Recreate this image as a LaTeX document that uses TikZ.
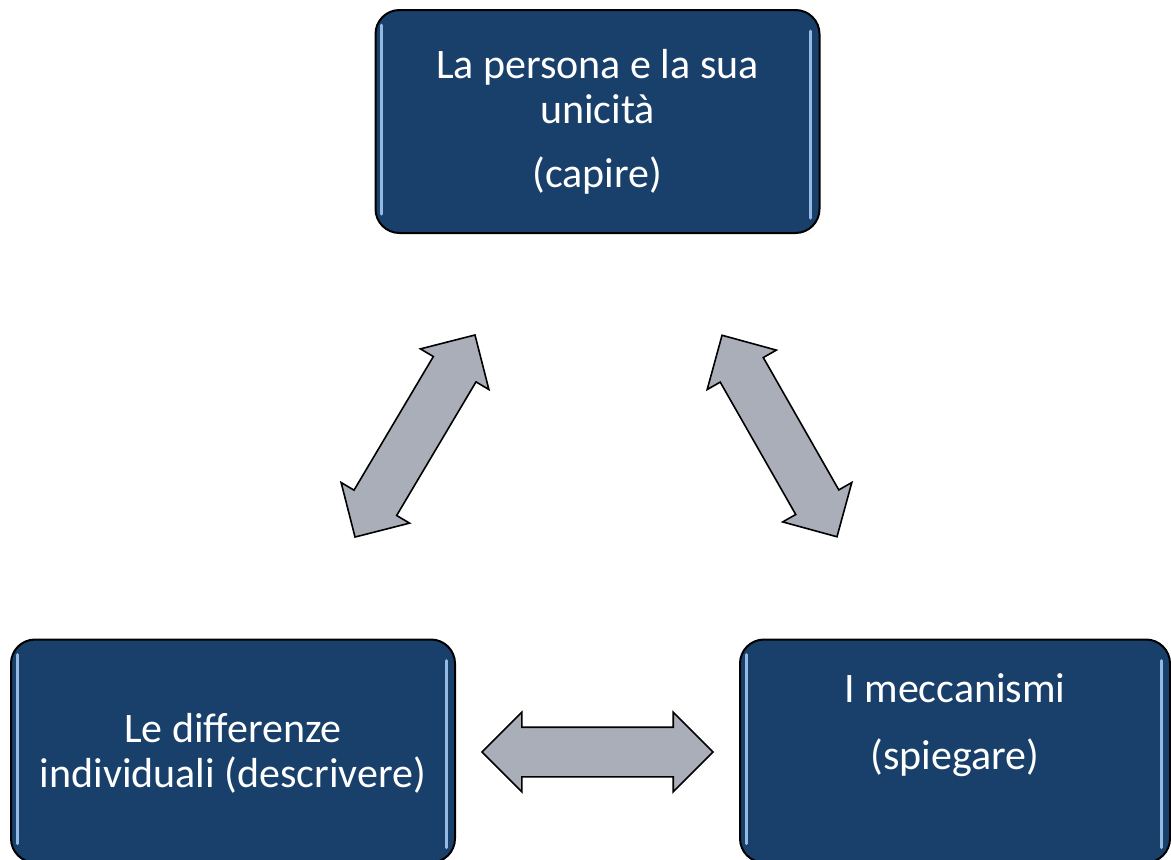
\documentclass[tikz,border=0pt]{standalone}
\usepackage{fontspec}
\setmainfont{Carlito}
\usetikzlibrary{shapes.arrows,calc}
\definecolor{boxblue}{RGB}{24,64,107}
\definecolor{arrowgray}{RGB}{170,174,184}
\definecolor{glow}{RGB}{150,185,225}

\begin{document}
\begin{tikzpicture}[x=.5pt,y=-.5pt,
    box/.style={draw=black,line width=1pt,fill=boxblue,rounded corners=12pt,
      minimum width=222pt,minimum height=111.5pt,inner sep=0pt},
    boxtext/.style={text=white,align=center,font=\fontsize{21}{22.5}\selectfont},
    dblarrow/.style={double arrow,draw=black,line width=.8pt,fill=arrowgray,
      double arrow head extend=7.5pt,inner xsep=0pt,inner ysep=12pt}]
    \useasboundingbox (0,0) rectangle (1171,859);
    \clip (0,0) rectangle (1171,859);
    % the three boxes
    \node[box] (persona) at (597.5,121.5) {};
    \node[box] (diff) at (233,751) {};
    \node[box,minimum width=215pt] (mecc) at (955,751) {};
    \foreach \b in {persona,diff,mecc} {
      \draw[glow,line width=1.5pt,line cap=round] ([xshift=3.5pt,yshift=-8pt]\b.north west) -- ([xshift=3.5pt,yshift=10pt]\b.south west);
      \draw[glow,line width=1.5pt,line cap=round] ([xshift=-5pt,yshift=-11pt]\b.north east) -- ([xshift=-5pt,yshift=8pt]\b.south east);
    }
    \node[boxtext] (personatxt) at (persona) {La persona e la sua\\unicità\\[9.5pt](capire)};
    \node[boxtext] (difftxt) at ([yshift=-1pt]diff.center) {Le differenze\\individuali (descrivere)};
    \node[boxtext] (mecctxt) at ([yshift=13pt]mecc.center) {I meccanismi\\[11pt](spiegare)};
    % arrows between them
    \node[dblarrow,minimum height=117.5pt,rotate=59.3] (pd) at (415,436) {};
    \node[dblarrow,minimum height=116pt,rotate=-60.3] (pm) at (779.5,436) {};
    \node[dblarrow,minimum height=115.5pt] (dm) at ($(diff.east)!.5!(mecc.west)+(0,1)$) {};
\end{tikzpicture}
\end{document}
